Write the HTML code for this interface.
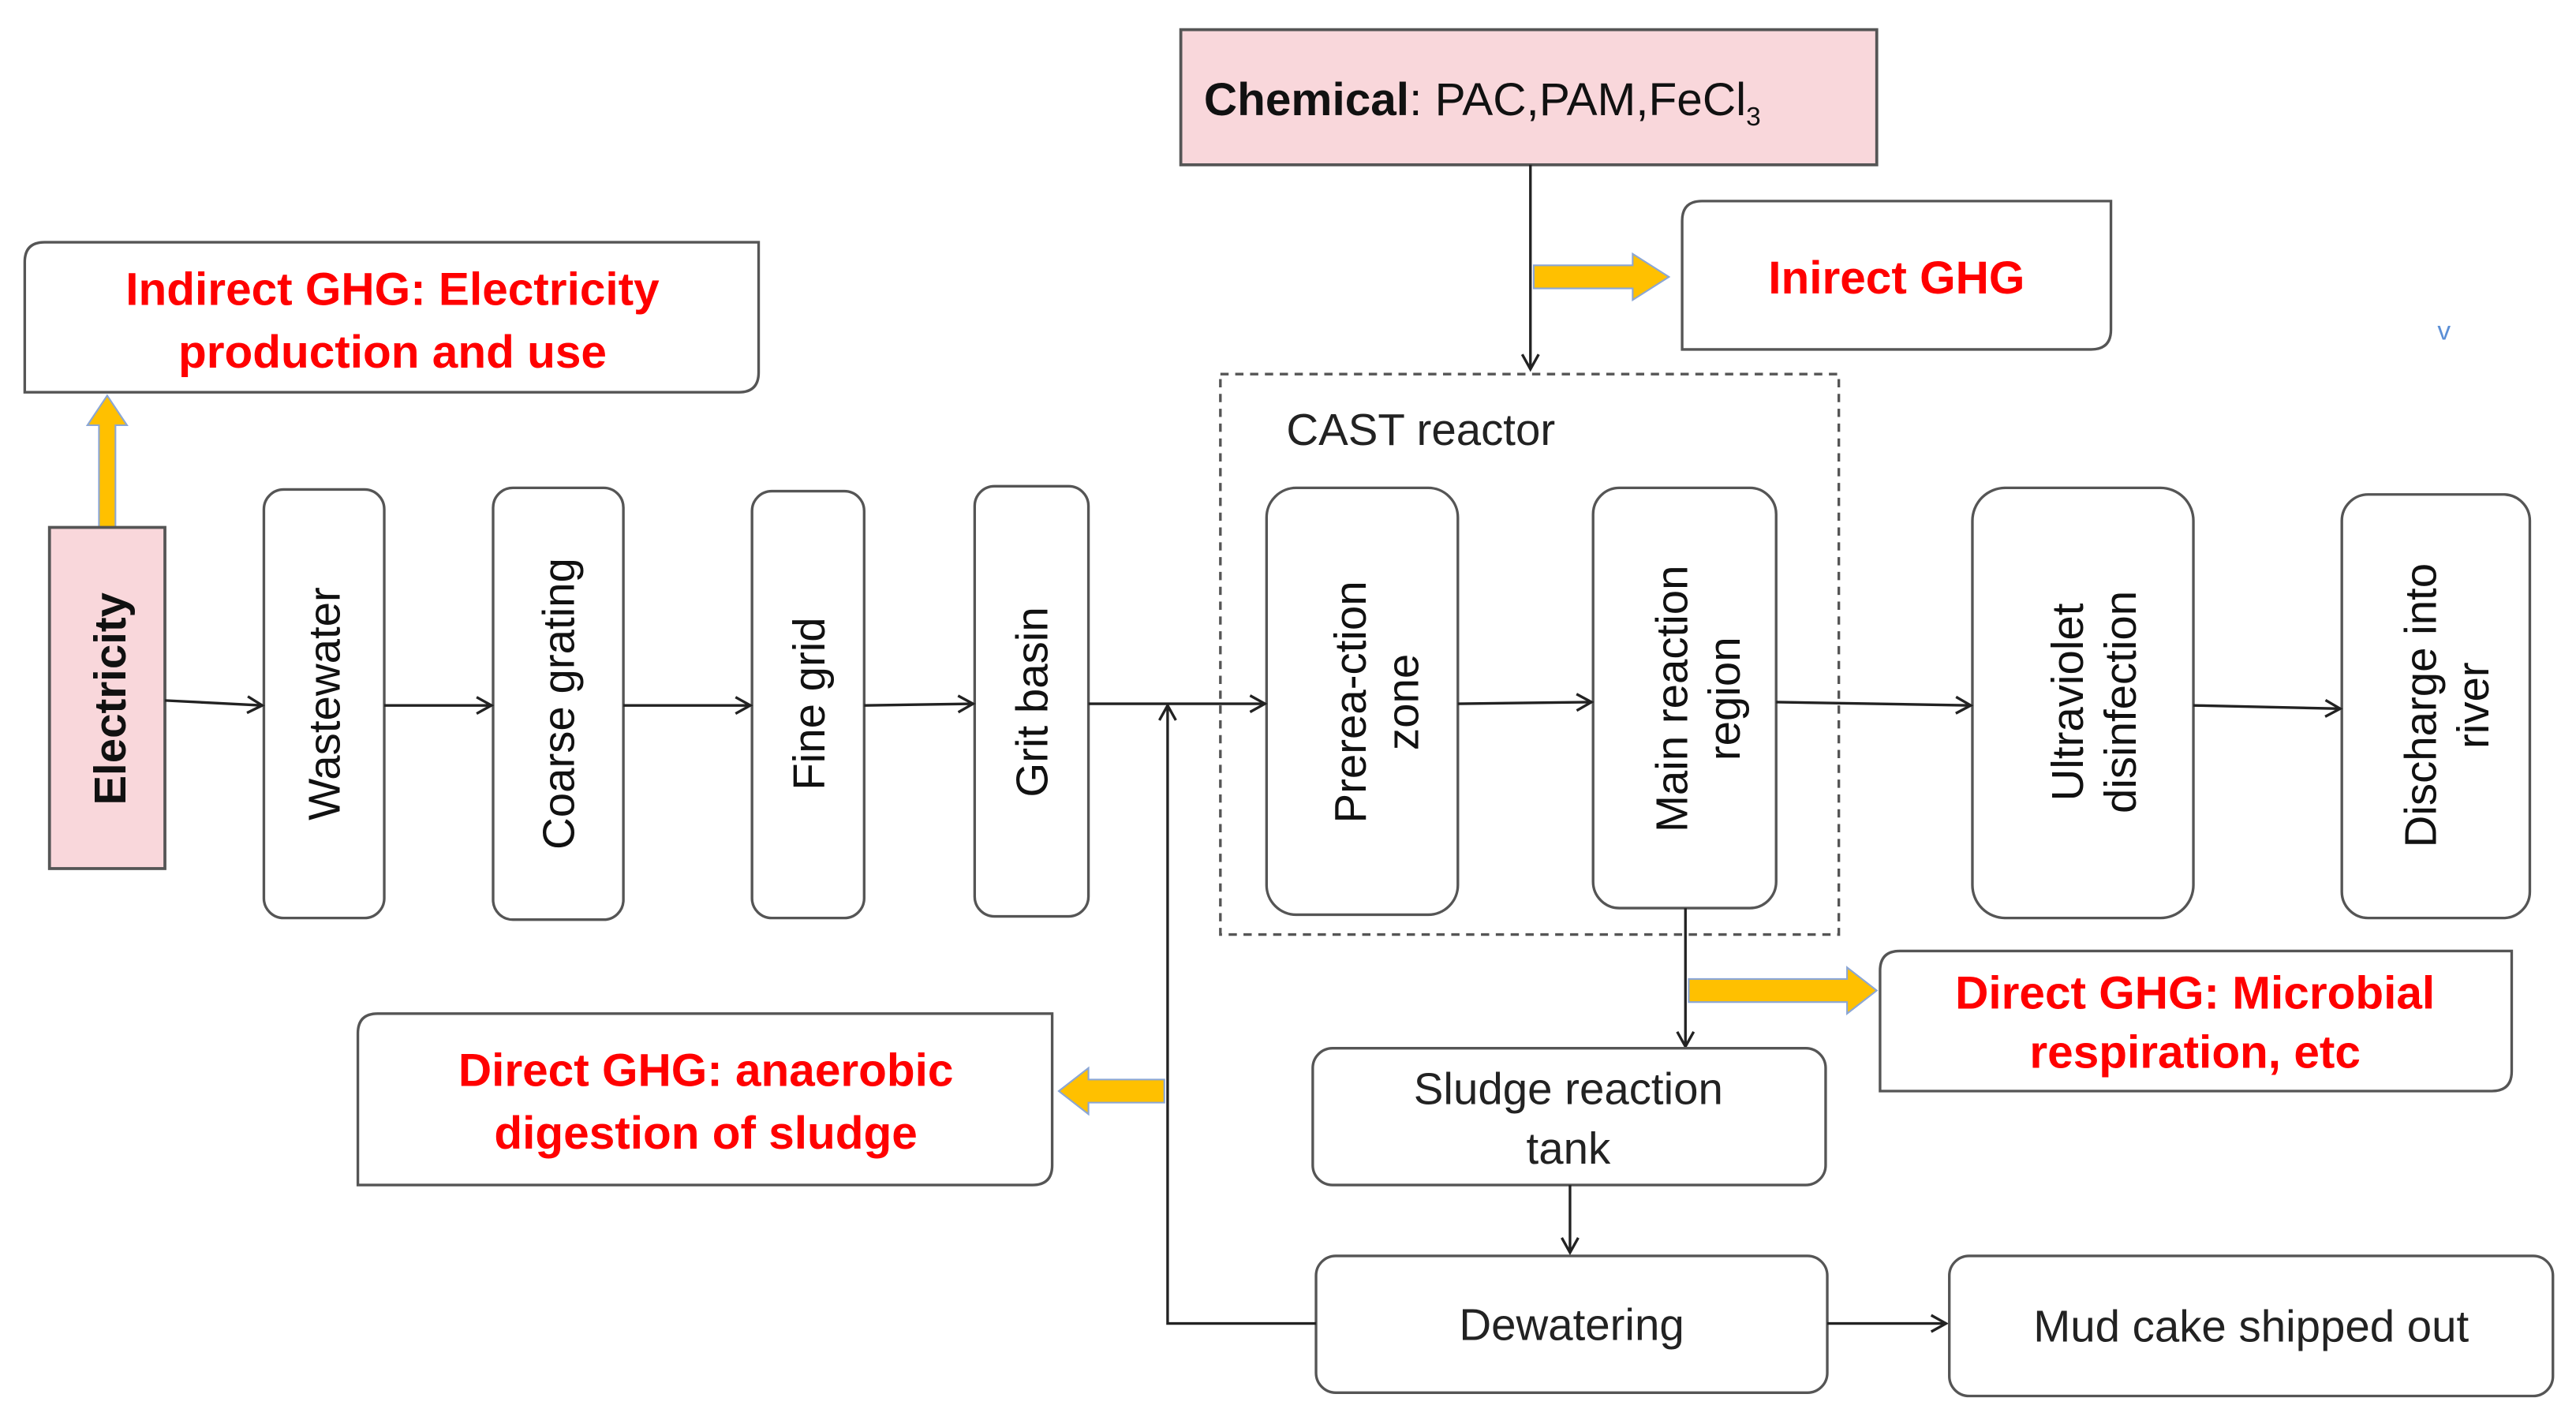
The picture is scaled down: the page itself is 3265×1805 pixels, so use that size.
<!DOCTYPE html>
<html><head><meta charset="utf-8"><style>
html,body{margin:0;padding:0;background:#fff;width:3265px;height:1805px;overflow:hidden}
svg{display:block}
text{font-family:"Liberation Sans",Arial,sans-serif}
.b{fill:#fff;stroke:#555;stroke-width:1.6}
.r{fill:#ff0000;font-weight:bold;font-size:28px;text-anchor:middle}
.v{fill:#111;font-size:27px;text-anchor:middle}
.l{stroke:#222;stroke-width:1.6;fill:none}
.y{fill:#ffc000;stroke:#8aa6d6;stroke-width:1}
</style></head><body>
<svg width="3265" height="1805" viewBox="0 0 1562 864" preserveAspectRatio="none">
<defs><marker id="a" markerWidth="12" markerHeight="12" refX="10" refY="6" orient="auto" markerUnits="userSpaceOnUse"><path d="M1,1 L10,6 L1,11" fill="none" stroke="#222" stroke-width="1.6"/></marker></defs>

<!-- Chemical -->
<rect x="716" y="18" width="422" height="82" fill="#f9d7db" stroke="#555" stroke-width="1.8"/>
<text x="730" y="70" font-size="28" fill="#111"><tspan font-weight="bold">Chemical</tspan>:  PAC,PAM,FeCl<tspan font-size="16" dy="6">3</tspan></text>
<path class="l" d="M928 100 V224" marker-end="url(#a)"/>
<path class="y" d="M930 161 H990 V154 L1012 168 L990 182 V175 H930 Z"/>
<path class="b" d="M1032 122 H1280 V200 Q1280 212 1268 212 H1020 V134 Q1020 122 1032 122 Z"/>
<text class="r" x="1150" y="178">Inirect GHG</text>
<text x="1482" y="206" font-size="16" fill="#5b8fd6" text-anchor="middle">v</text>

<!-- Indirect electricity -->
<path class="b" d="M27 147 H460 V226 Q460 238 448 238 H15 V159 Q15 147 27 147 Z"/>
<text class="r" x="238" y="185">Indirect GHG: Electricity</text>
<text class="r" x="238" y="223">production and use</text>
<path class="y" d="M60 320 V258 H53 L65 240 L77 258 H70 V320 Z"/>
<rect x="30" y="320" width="70" height="207" fill="#f9d7db" stroke="#555" stroke-width="1.8"/>
<text transform="translate(76 424) rotate(-90)" class="v" font-weight="bold" font-size="28">Electricity</text>

<!-- main boxes -->
<rect class="b" x="160" y="297" width="73" height="260" rx="12"/>
<text transform="translate(206 427) rotate(-90)" class="v">Wastewater</text>
<rect class="b" x="299" y="296" width="79" height="262" rx="12"/>
<text transform="translate(348 427) rotate(-90)" class="v">Coarse grating</text>
<rect class="b" x="456" y="298" width="68" height="259" rx="12"/>
<text transform="translate(500 427) rotate(-90)" class="v">Fine grid</text>
<rect class="b" x="591" y="295" width="69" height="261" rx="12"/>
<text transform="translate(635 426) rotate(-90)" class="v">Grit basin</text>

<rect x="740" y="227" width="375" height="340" fill="none" stroke="#555" stroke-width="1.6" stroke-dasharray="5,4"/>
<text x="780" y="270" font-size="27" fill="#222">CAST reactor</text>
<rect class="b" x="768" y="296" width="116" height="259" rx="18"/>
<text transform="translate(836 426) rotate(-90)" class="v"><tspan x="0" dy="-8">Prerea-ction</tspan><tspan x="0" dy="32">zone</tspan></text>
<rect class="b" x="966" y="296" width="111" height="255" rx="16"/>
<text transform="translate(1031 424) rotate(-90)" class="v"><tspan x="0" dy="-8">Main reaction</tspan><tspan x="0" dy="32">region</tspan></text>
<rect class="b" x="1196" y="296" width="134" height="261" rx="20"/>
<text transform="translate(1271 426) rotate(-90)" class="v"><tspan x="0" dy="-8">Ultraviolet</tspan><tspan x="0" dy="32">disinfection</tspan></text>
<rect class="b" x="1420" y="300" width="114" height="257" rx="16"/>
<text transform="translate(1485 428) rotate(-90)" class="v"><tspan x="0" dy="-8">Discharge into</tspan><tspan x="0" dy="32">river</tspan></text>

<!-- flow arrows -->
<path class="l" d="M100 425 L159 428" marker-end="url(#a)"/>
<path class="l" d="M233 428 H298" marker-end="url(#a)"/>
<path class="l" d="M378 428 H455" marker-end="url(#a)"/>
<path class="l" d="M524 428 L590 427" marker-end="url(#a)"/>
<path class="l" d="M660 427 H767" marker-end="url(#a)"/>
<path class="l" d="M884 427 L965 426" marker-end="url(#a)"/>
<path class="l" d="M1077 426 L1195 428" marker-end="url(#a)"/>
<path class="l" d="M1330 428 L1419 430" marker-end="url(#a)"/>

<!-- sludge line -->
<path class="l" d="M1022 551 V635" marker-end="url(#a)"/>
<path class="y" d="M1024 594 H1120 V587 L1138 601 L1120 615 V608 H1024 Z"/>
<path class="b" d="M1152 577 H1523 V650 Q1523 662 1511 662 H1140 V589 Q1140 577 1152 577 Z"/>
<text class="r" x="1331" y="612">Direct GHG: Microbial</text>
<text class="r" x="1331" y="648">respiration, etc</text>

<rect class="b" x="796" y="636" width="311" height="83" rx="12"/>
<text x="951" y="670" font-size="27" fill="#222" text-anchor="middle">Sludge reaction</text>
<text x="951" y="706" font-size="27" fill="#222" text-anchor="middle">tank</text>
<path class="l" d="M952 719 V760" marker-end="url(#a)"/>
<rect class="b" x="798" y="762" width="310" height="83" rx="12"/>
<text x="953" y="813" font-size="27" fill="#222" text-anchor="middle">Dewatering</text>
<path class="l" d="M1108 803 H1180" marker-end="url(#a)"/>
<rect class="b" x="1182" y="762" width="366" height="85" rx="12"/>
<text x="1365" y="814" font-size="27" fill="#222" text-anchor="middle">Mud cake shipped out</text>

<path class="l" d="M798 803 H708 V428" marker-end="url(#a)"/>
<path class="y" d="M706 655 H660 V648 L642 662 L660 676 V669 H706 Z"/>
<path class="b" d="M229 615 H638 V707 Q638 719 626 719 H217 V627 Q217 615 229 615 Z"/>
<text class="r" x="428" y="659">Direct GHG: anaerobic</text>
<text class="r" x="428" y="697">digestion of sludge</text>
</svg>
</body></html>
